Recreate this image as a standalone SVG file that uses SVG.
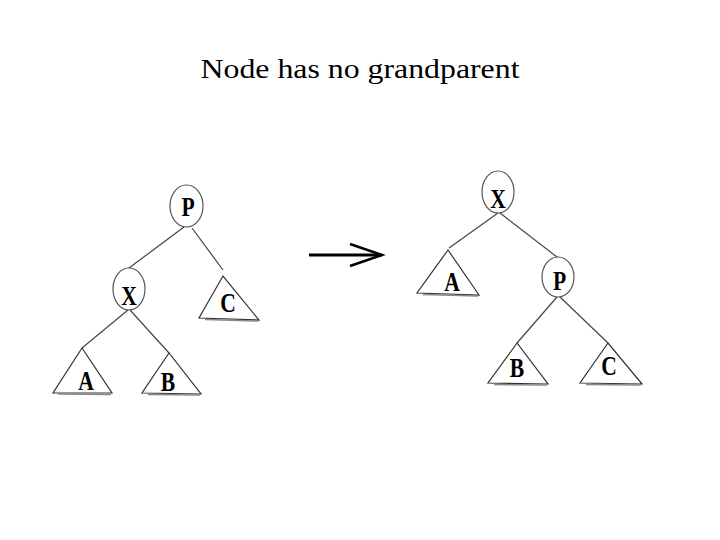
<svg xmlns="http://www.w3.org/2000/svg" width="720" height="540" viewBox="0 0 720 540">
<style>
.edge{stroke:#444;stroke-width:1.2;fill:none}
.node ellipse{fill:none;stroke:#555;stroke-width:1.2}
.node polygon{fill:#fff;stroke:#333;stroke-width:1.2}
.base{stroke:#888;stroke-width:1.5}
.lbl{font-family:"Liberation Serif","Times New Roman",serif;font-weight:bold;font-size:27px;text-anchor:middle;fill:#000}
.title{font-family:"Liberation Serif","Times New Roman",serif;font-size:28px;text-anchor:middle;fill:#000}
</style>
<rect width="720" height="540" fill="#fff"/>
<text class="title" x="360" y="78" textLength="319" lengthAdjust="spacingAndGlyphs">Node has no grandparent</text>
<g id="connectors">
<line class="edge" x1="184" y1="227" x2="129" y2="268"/>
<line class="edge" x1="192" y1="228" x2="223" y2="270"/>
<line class="edge" x1="128" y1="310" x2="82" y2="348"/>
<line class="edge" x1="130" y1="310" x2="169" y2="353"/>
<line class="edge" x1="498" y1="213" x2="449" y2="248"/>
<line class="edge" x1="500" y1="213" x2="557" y2="257"/>
<line class="edge" x1="557" y1="297" x2="517" y2="343"/>
<line class="edge" x1="560" y1="297" x2="608" y2="343"/>
<g id="arrow" stroke="#000" stroke-width="3" fill="none">
<line x1="309" y1="255" x2="382" y2="255"/>
<polyline points="350,244 382,255 350,266" stroke-width="2.5"/>
</g>
</g>
<g id="left-P" class="node"><ellipse cx="186.5" cy="206" rx="16.5" ry="21"/><text class="lbl" transform="translate(188,216) scale(0.8,1)">P</text></g>
<g id="left-X" class="node"><ellipse cx="129" cy="289" rx="16" ry="21"/><text class="lbl" transform="translate(129,305) scale(0.8,1)">X</text></g>
<g id="left-C" class="node"><polygon points="223,276 199,318 259,320"/><line class="base" x1="205" y1="319.5" x2="258" y2="321"/><text class="lbl" transform="translate(228,312) scale(0.8,1)">C</text></g>
<g id="left-A" class="node"><polygon points="82,348 53,393 112,393"/><line class="base" x1="58" y1="394" x2="111" y2="394.5"/><text class="lbl" transform="translate(86,390) scale(0.8,1)">A</text></g>
<g id="left-B" class="node"><polygon points="169,353 142,393 201,394"/><line class="base" x1="148" y1="394.5" x2="200" y2="395"/><text class="lbl" transform="translate(168,391) scale(0.8,1)">B</text></g>
<g id="right-X" class="node"><ellipse cx="498" cy="192" rx="16" ry="21"/><text class="lbl" transform="translate(498,208) scale(0.8,1)">X</text></g>
<g id="right-A" class="node"><polygon points="448,250 417,293 479,295"/><line class="base" x1="423" y1="294.5" x2="478" y2="296"/><text class="lbl" transform="translate(452,291) scale(0.8,1)">A</text></g>
<g id="right-P" class="node"><ellipse cx="558" cy="277" rx="16" ry="20"/><text class="lbl" transform="translate(559.5,290) scale(0.8,1)">P</text></g>
<g id="right-B" class="node"><polygon points="517,343 488,383 548,384"/><line class="base" x1="494" y1="384.5" x2="547" y2="385"/><text class="lbl" transform="translate(517,377) scale(0.8,1)">B</text></g>
<g id="right-C" class="node"><polygon points="608,343 580,383 642,384"/><line class="base" x1="586" y1="384.5" x2="641" y2="385"/><text class="lbl" transform="translate(609,375) scale(0.8,1)">C</text></g>
</svg>
